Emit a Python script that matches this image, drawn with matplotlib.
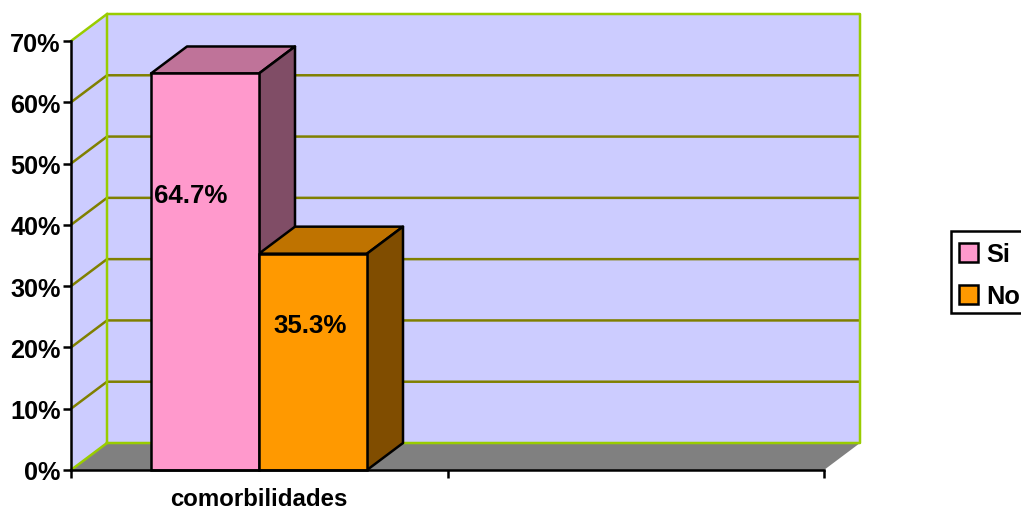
import matplotlib
matplotlib.use("Agg")
import matplotlib.pyplot as plt
from matplotlib.patches import Polygon, Patch, Rectangle
from matplotlib.ticker import PercentFormatter

plt.rcParams['font.family'] = ['Liberation Sans', 'DejaVu Sans']
plt.rcParams['font.weight'] = 'bold'

categories = ["comorbilidades"]
series_names = ["Si", "No"]
series_values = [64.7, 35.3]
series_labels = ["64.7%", "35.3%"]
y_ticks = [0, 10, 20, 30, 40, 50, 60, 70]

face_colors = ["#FF99CC", "#FF9900"]
top_colors = ["#BF7399", "#BF7300"]
side_colors = ["#804D66", "#804D00"]

width_px = 1021
height_px = 510

# Front plane of the fake 3d box, in pixels
left_px, right_px = 71, 824
bottom_px, top_px = 471, 42
depth_x_px, depth_y_px = 36, 27

figure_1 = plt.figure(figsize=(width_px / 100, height_px / 100), dpi=100)
axis_1 = figure_1.add_axes([left_px / width_px, 1 - bottom_px / height_px,
                            (right_px - left_px) / width_px, (bottom_px - top_px) / height_px])
axis_1.set_xlim(0, 2)
axis_1.set_ylim(0, 70)
axis_1.patch.set_visible(False)

# Depth offset in data units
depth_x = depth_x_px * 2 / (right_px - left_px)
depth_y = depth_y_px * 70 / (bottom_px - top_px)

line_width = 1.8

# Walls and floor
axis_1.add_patch(Polygon([(0, 0), (depth_x, depth_y), (2 + depth_x, depth_y), (2, 0)],
                         facecolor="#808080", edgecolor="none", clip_on=False, zorder=0.5))
axis_1.add_patch(Polygon([(0, 0), (depth_x, depth_y), (depth_x, 70 + depth_y), (0, 70)],
                         facecolor="#CCCCFF", edgecolor="none", clip_on=False, zorder=0.5))
axis_1.add_patch(Polygon([(depth_x, depth_y), (2 + depth_x, depth_y), (2 + depth_x, 70 + depth_y), (depth_x, 70 + depth_y)],
                         facecolor="#CCCCFF", edgecolor="none", clip_on=False, zorder=0.5))

# Gridlines
for tick in y_ticks[1:-1]:
    axis_1.plot([0, depth_x, 2 + depth_x], [tick, tick + depth_y, tick + depth_y],
                color="#808000", linewidth=line_width, clip_on=False, zorder=0.7, solid_capstyle='butt')

# Green frame of the walls
axis_1.plot([0, depth_x, depth_x, 2 + depth_x, 2 + depth_x, depth_x], [0, depth_y, 70 + depth_y, 70 + depth_y, depth_y, depth_y],
            color="#99CC00", linewidth=line_width, clip_on=False, zorder=0.8)
axis_1.plot([0, depth_x], [70, 70 + depth_y], color="#99CC00", linewidth=line_width, clip_on=False, zorder=0.8)

# Bars
bar_width = 108 * 2 / (right_px - left_px)
bar_start = 80 * 2 / (right_px - left_px)
bar_positions = [bar_start + bar_width * index for index in range(len(series_values))]

for index in range(len(series_values)):
    x0 = bar_positions[index]
    x1 = x0 + bar_width
    value = series_values[index]

    axis_1.bar(x0, value, width=bar_width, align='edge', color=face_colors[index],
               edgecolor="black", linewidth=line_width, clip_on=False, zorder=1.5)
    axis_1.add_patch(Polygon([(x0, value), (x0 + depth_x, value + depth_y), (x1 + depth_x, value + depth_y), (x1, value)],
                             facecolor=top_colors[index], edgecolor="black", linewidth=line_width,
                             clip_on=False, zorder=1.2, joinstyle='round'))
    axis_1.add_patch(Polygon([(x1, 0), (x1 + depth_x, depth_y), (x1 + depth_x, value + depth_y), (x1, value)],
                             facecolor=side_colors[index], edgecolor="black", linewidth=line_width,
                             clip_on=False, zorder=1.2, joinstyle='round'))

# Value labels
label_x = [(190.5 - left_px) * 2 / (right_px - left_px), (310 - left_px) * 2 / (right_px - left_px)]
label_y = [44.8, 23.6]
for index in range(len(series_labels)):
    axis_1.text(label_x[index], label_y[index], series_labels[index], ha='center', va='center',
                fontsize=18.6, fontweight='bold', color="black", zorder=3)

# Axes
for side in ["top", "right"]:
    axis_1.spines[side].set_visible(False)
for side in ["left", "bottom"]:
    axis_1.spines[side].set_linewidth(line_width)

axis_1.set_yticks(y_ticks)
axis_1.yaxis.set_major_formatter(PercentFormatter(decimals=0))
axis_1.tick_params(axis='y', length=5.5, width=line_width, labelsize=18.2, pad=2)
axis_1.set_xticks([0, 1, 2])
axis_1.set_xticklabels([])
axis_1.tick_params(axis='x', which='major', length=5.5, width=line_width)
axis_1.set_xticks([bar_start + bar_width], minor=True)
axis_1.set_xticklabels(categories, minor=True)
axis_1.tick_params(axis='x', which='minor', length=0, labelsize=17.3, pad=12.5)

# Legend box runs off the right edge of the image like in the original
legend_box = Rectangle((951 / width_px, 1 - 314 / height_px), 90 / width_px, 82 / height_px,
                       transform=figure_1.transFigure, facecolor="white", edgecolor="black",
                       linewidth=line_width, clip_on=True, zorder=2)
figure_1.add_artist(legend_box)

handles = [Patch(facecolor=face_colors[i], edgecolor="black", linewidth=line_width, label=series_names[i])
           for i in range(len(series_names))]
legend_1 = figure_1.legend(handles=handles, loc='upper left',
                           bbox_to_anchor=(951 / width_px, 1 - 235 / height_px),
                           fontsize=18.3, frameon=False,
                           handlelength=0.75, handleheight=0.75, handletextpad=0.3,
                           labelspacing=0.72, borderpad=0.32, borderaxespad=0)
legend_1.set_zorder(3)

plt.savefig("out.png", dpi=100)
